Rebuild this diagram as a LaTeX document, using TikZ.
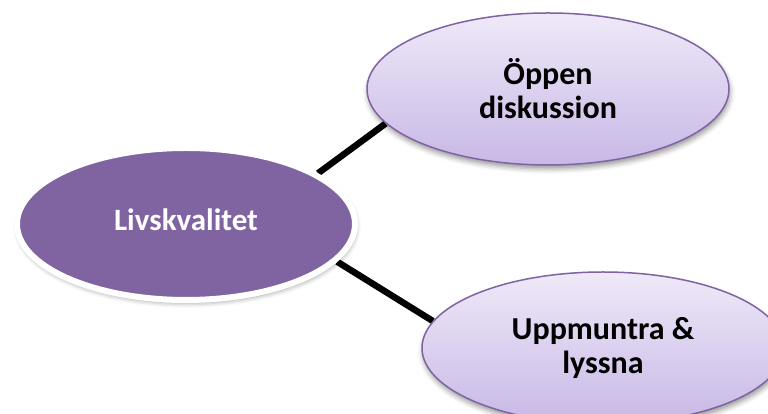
\documentclass[tikz,border=0pt]{standalone}
\usepackage{fontspec}
\setmainfont{Carlito}
\usetikzlibrary{shapes.geometric,backgrounds,shadows.blur}
\definecolor{core}{HTML}{8064A2}
\definecolor{leaftop}{HTML}{EFE9F8}
\definecolor{leafbot}{HTML}{C8B8E6}

\begin{document}
\begin{tikzpicture}[x=1pt, y=1pt,
    hub/.style={ellipse, draw=white, line width=6pt, fill=core, text=white,
      minimum width=338pt, minimum height=152pt, inner sep=0pt,
      font=\bfseries\fontsize{31}{36}\selectfont,
      blur shadow={shadow xshift=1pt, shadow yshift=-3pt, shadow blur radius=5pt}},
    leaf/.style={ellipse, draw=core, line width=1.5pt, top color=leaftop,
      bottom color=leafbot, minimum width=362pt, minimum height=152pt,
      inner sep=0pt, align=center, font=\bfseries\fontsize{32}{34}\selectfont,
      blur shadow={shadow xshift=1pt, shadow yshift=-4pt, shadow blur radius=5pt}},
    link/.style={line width=6.5pt, black},
  ]
  \useasboundingbox (0,0) rectangle (768,414);
  \node[hub] (life) at (186,190) {\raisebox{8pt}{Livskvalitet}};
  \node[leaf] (talk) at (548,325) {Öppen\\diskussion};
  \node[leaf] (listen) at (603,66) {Uppmuntra \&\\lyssna};

  % connectors behind the ellipses
  \begin{scope}[on background layer]
    \draw[link] (life.21) -- (talk.192);
    \draw[link] (life.-14) -- (listen.171);
  \end{scope}
\end{tikzpicture}
\end{document}
